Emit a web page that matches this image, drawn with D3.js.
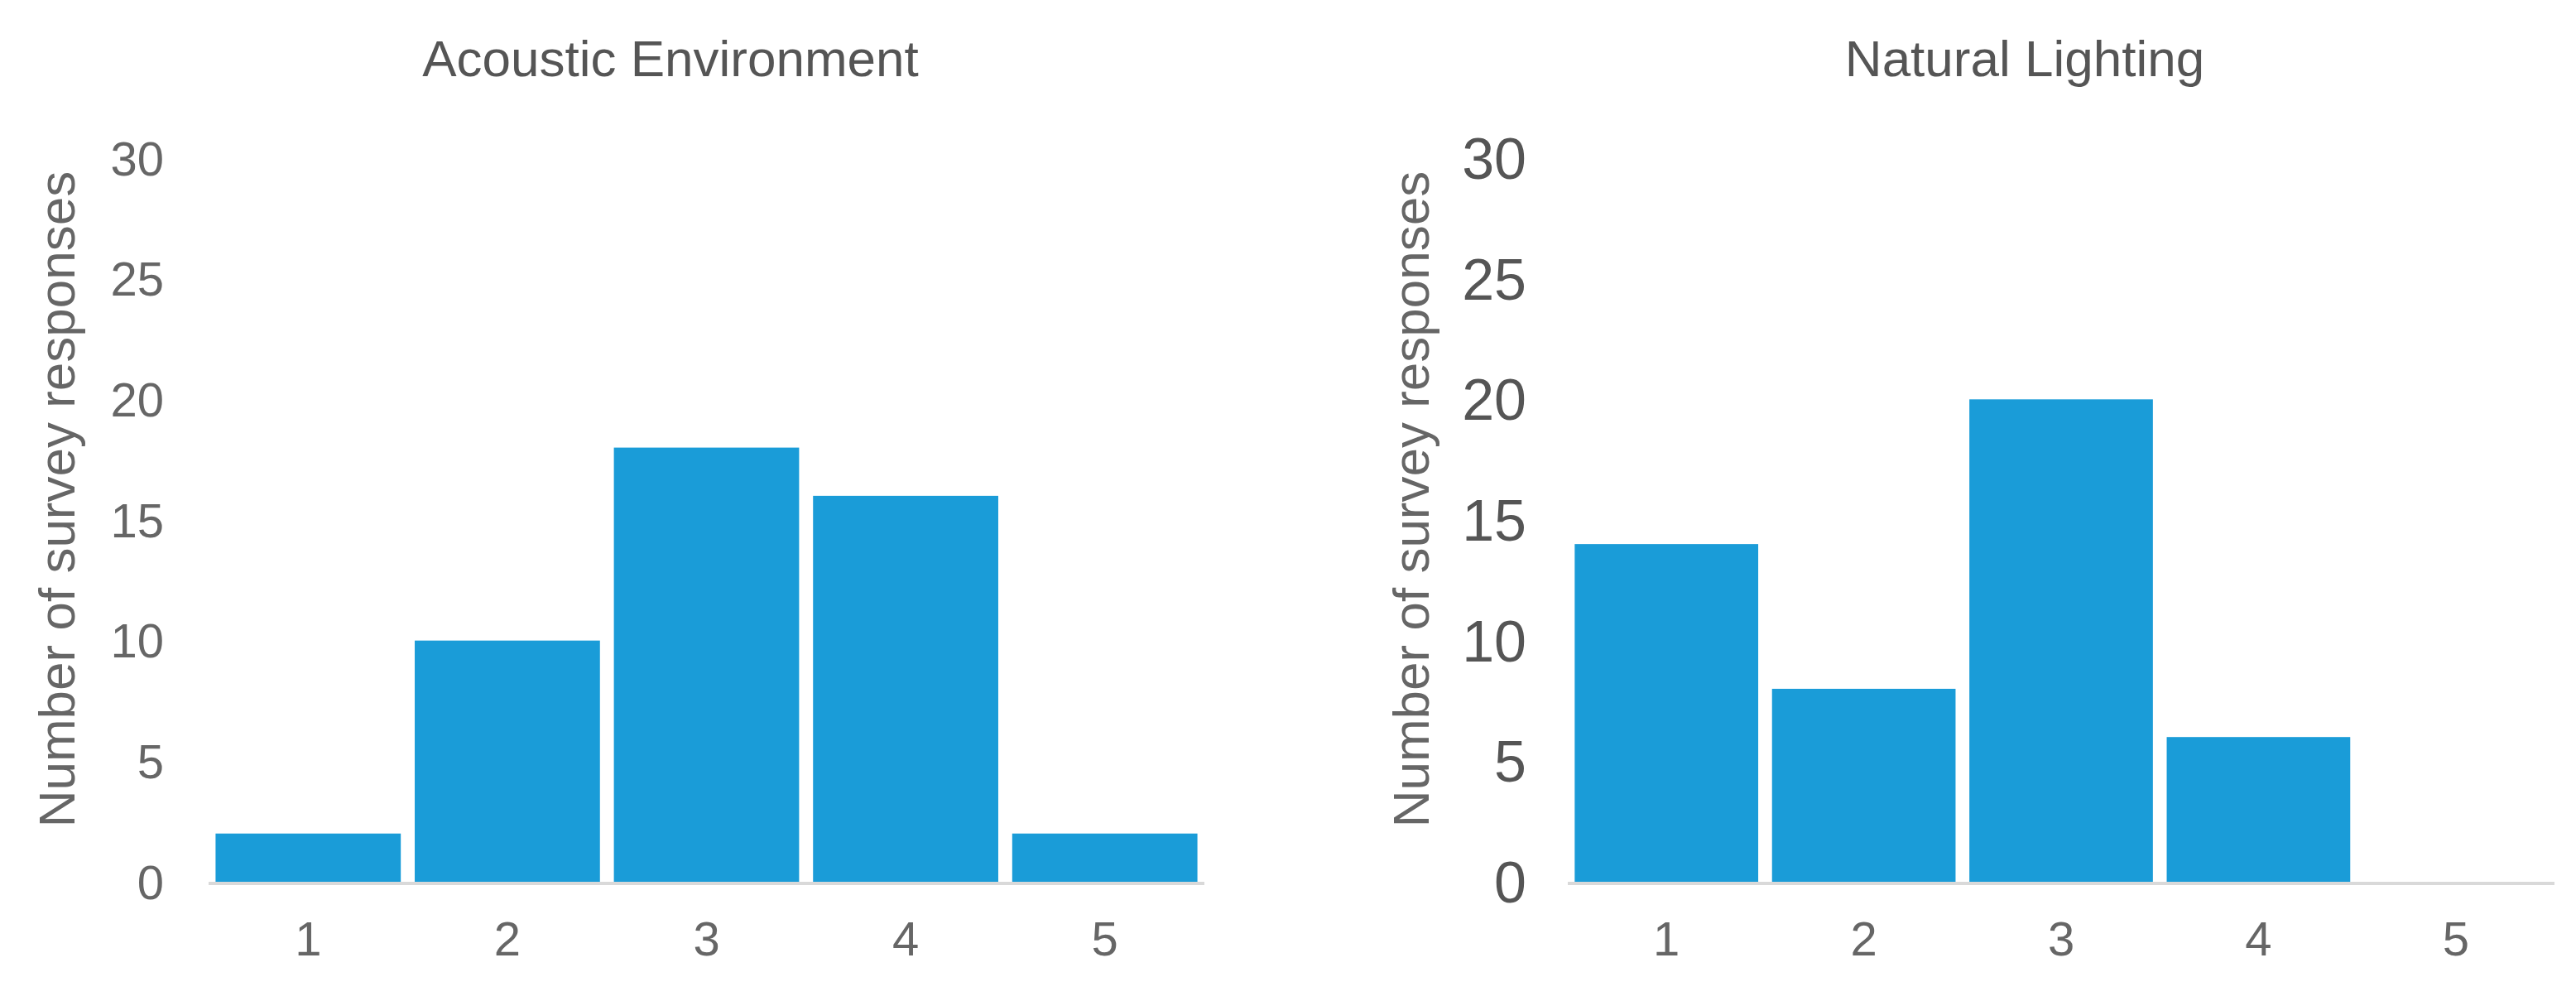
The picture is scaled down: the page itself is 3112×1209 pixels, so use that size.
<!DOCTYPE html>
<html><head><meta charset="utf-8">
<script src="https://cdn.jsdelivr.net/npm/d3@7"></script>
<style>body{margin:0;background:#fff}</style></head>
<body><svg id="c" width="3112" height="1209"></svg>
<script>
const categories = ["1","2","3","4","5"];
const acousticValues = [2,10,18,16,2];
const lightingValues = [14,8,20,6,0];
const yTicks = [0,5,10,15,20,25,30];
const titles = ["Acoustic Environment","Natural  Lighting"];
const yTitle = "Number of survey responses";

const svg = d3.select("#c");
const font = "'Liberation Sans',Arial,sans-serif";
const panels = [
  {values: acousticValues, title: titles[0], x0: 252, x1: 1455, tickX: 198, yTitleX: 68, titleX: 810, fs: 58, tc: "#666"},
  {values: lightingValues, title: titles[1], x0: 1894, x1: 3086, tickX: 1844, yTitleX: 1704, titleX: 2446, fs: 70, tc: "#555"}
];
const y = d3.scaleLinear().domain([0,30]).range([1065,191]);
panels.forEach(p => {
  const g = svg.append("g");
  const x = d3.scaleBand().domain(categories).range([p.x0,p.x1]).paddingInner(0.07).paddingOuter(0.035);
  g.selectAll("rect").data(p.values).join("rect")
    .attr("x",(d,i)=>x(categories[i])).attr("width",x.bandwidth())
    .attr("y",d=>y(d)).attr("height",d=>y(0)-y(d)).attr("fill","#1a9cd8");
  g.append("line").attr("x1",p.x0).attr("x2",p.x1).attr("y1",y(0)+2).attr("y2",y(0)+2)
    .attr("stroke","#d9d9d9").attr("stroke-width",4);
  const ya = g.append("g").attr("transform",`translate(${p.tickX},0)`)
    .call(d3.axisLeft(y).tickValues(yTicks).tickSize(0).tickPadding(0));
  ya.select(".domain").remove();
  ya.selectAll("text").attr("font-family",font).attr("font-size",p.fs).attr("fill",p.tc).attr("dy","0.35em");
  const xa = g.append("g").attr("transform",`translate(0,${y(0)})`)
    .call(d3.axisBottom(x).tickSize(0).tickPadding(48));
  xa.select(".domain").remove();
  xa.selectAll("text").attr("font-family",font).attr("font-size",58).attr("fill","#666");
  g.append("text").attr("x",p.titleX).attr("y",92).attr("text-anchor","middle")
    .attr("font-family",font).attr("font-size",62).attr("fill","#555").text(p.title);
  g.append("text").attr("transform",`translate(${p.yTitleX+22},603) rotate(-90)`).attr("text-anchor","middle")
    .attr("font-family",font).attr("font-size",62).attr("fill","#666").text(yTitle);
});
</script></body></html>
